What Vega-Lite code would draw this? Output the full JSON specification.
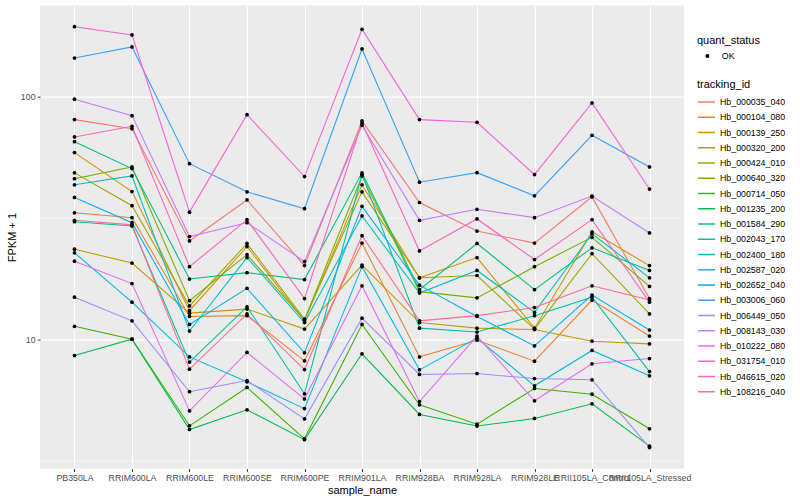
{
  "$schema": "https://vega.github.io/schema/vega-lite/v6.json",
  "width": 644,
  "height": 463,
  "autosize": "none",
  "padding": {"left": 40, "top": 5.6, "right": 116, "bottom": 31.4},
  "background": "white",
  "config": {
    "view": {"fill": "#EBEBEB", "stroke": null},
    "font": "Liberation Sans",
    "axis": {
      "domain": false,
      "labelFont": "Liberation Sans",
      "labelFontSize": 8.8,
      "labelColor": "#4D4D4D",
      "tickColor": "#333333",
      "tickSize": 2.75,
      "tickWidth": 1,
      "labelPadding": 2.2,
      "gridColor": "white",
      "titleFont": "Liberation Sans",
      "titleFontSize": 11,
      "titleFontWeight": "normal",
      "titleColor": "black"
    },
    "legend": {
      "titleFont": "Liberation Sans",
      "titleFontSize": 11,
      "titleFontWeight": "normal",
      "titleColor": "black",
      "labelFont": "Liberation Sans",
      "labelFontSize": 8.8,
      "labelColor": "black"
    }
  },
  "data": {
    "values": [
      {"tracking_id": "Hb_000035_040", "quant_status": "OK", "PB350LA": 80.4, "RRIM600LA": 73.8, "RRIM600LE": 25.4, "RRIM600SE": 37.5, "RRIM600PE": 20.1, "RRIM901LA": 79.4, "RRIM928BA": 36.6, "RRIM928LA": 27.9, "RRIM928LE": 24.9, "RRII105LA_Control": 38.6, "RRII105LA_Stressed": 14.7},
      {"tracking_id": "Hb_000104_080", "quant_status": "OK", "PB350LA": 33.2, "RRIM600LA": 31.7, "RRIM600LE": 12.4, "RRIM600SE": 12.5, "RRIM600PE": 8.14, "RRIM901LA": 24.9, "RRIM928BA": 8.45, "RRIM928LA": 9.9, "RRIM928LE": 8.11, "RRII105LA_Control": 14.5, "RRII105LA_Stressed": 10.3},
      {"tracking_id": "Hb_000139_250", "quant_status": "OK", "PB350LA": 58.8, "RRIM600LA": 40.6, "RRIM600LE": 13.1, "RRIM600SE": 24.1, "RRIM600PE": 11.9, "RRIM901LA": 43.3, "RRIM928BA": 17.9, "RRIM928LA": 21.7, "RRIM928LE": 11.1, "RRII105LA_Control": 27.7, "RRII105LA_Stressed": 20.1},
      {"tracking_id": "Hb_000320_200", "quant_status": "OK", "PB350LA": 23.5, "RRIM600LA": 20.6, "RRIM600LE": 12.8, "RRIM600SE": 13.3, "RRIM600PE": 11.0, "RRIM901LA": 20.2, "RRIM928BA": 11.7, "RRIM928LA": 11.1, "RRIM928LE": 10.95, "RRII105LA_Control": 9.81, "RRII105LA_Stressed": 9.56},
      {"tracking_id": "Hb_000424_010", "quant_status": "OK", "PB350LA": 48.5, "RRIM600LA": 35.5, "RRIM600LE": 13.7, "RRIM600SE": 24.8, "RRIM600PE": 12.1, "RRIM901LA": 40.5, "RRIM928BA": 17.9, "RRIM928LA": 18.3, "RRIM928LE": 11.0, "RRII105LA_Control": 22.5, "RRII105LA_Stressed": 12.7},
      {"tracking_id": "Hb_000640_320", "quant_status": "OK", "PB350LA": 45.9, "RRIM600LA": 51.3, "RRIM600LE": 14.4, "RRIM600SE": 22.3, "RRIM600PE": 12.0, "RRIM901LA": 47.1, "RRIM928BA": 15.7, "RRIM928LA": 14.8, "RRIM928LE": 19.9, "RRII105LA_Control": 26.3, "RRII105LA_Stressed": 16.5},
      {"tracking_id": "Hb_000714_050", "quant_status": "OK", "PB350LA": 11.3, "RRIM600LA": 10.0, "RRIM600LE": 4.39, "RRIM600SE": 6.32, "RRIM600PE": 3.88, "RRIM901LA": 11.5, "RRIM928BA": 5.36, "RRIM928LA": 4.46, "RRIM928LE": 6.26, "RRII105LA_Control": 5.93, "RRII105LA_Stressed": 4.27},
      {"tracking_id": "Hb_001235_200", "quant_status": "OK", "PB350LA": 8.56, "RRIM600LA": 10.0, "RRIM600LE": 4.24, "RRIM600SE": 5.11, "RRIM600PE": 3.85, "RRIM901LA": 8.70, "RRIM928BA": 4.89, "RRIM928LA": 4.38, "RRIM928LE": 4.71, "RRII105LA_Control": 5.41, "RRII105LA_Stressed": 3.62},
      {"tracking_id": "Hb_001584_290", "quant_status": "OK", "PB350LA": 65.2, "RRIM600LA": 50.5, "RRIM600LE": 17.7, "RRIM600SE": 18.8, "RRIM600PE": 17.6, "RRIM901LA": 48.5, "RRIM928BA": 16.0, "RRIM928LA": 24.8, "RRIM928LE": 16.0, "RRII105LA_Control": 23.8, "RRII105LA_Stressed": 19.2},
      {"tracking_id": "Hb_002043_170", "quant_status": "OK", "PB350LA": 30.5, "RRIM600LA": 29.3, "RRIM600LE": 8.04, "RRIM600SE": 13.6, "RRIM600PE": 5.95, "RRIM901LA": 47.9, "RRIM928BA": 11.1, "RRIM928LA": 10.7, "RRIM928LE": 12.5, "RRII105LA_Control": 14.9, "RRII105LA_Stressed": 7.35},
      {"tracking_id": "Hb_002400_180", "quant_status": "OK", "PB350LA": 43.3, "RRIM600LA": 47.1, "RRIM600LE": 10.8, "RRIM600SE": 21.7, "RRIM600PE": 11.7, "RRIM901LA": 32.2, "RRIM928BA": 15.5, "RRIM928LA": 19.2, "RRIM928LE": 12.9, "RRII105LA_Control": 27.2, "RRII105LA_Stressed": 17.9},
      {"tracking_id": "Hb_002587_020", "quant_status": "OK", "PB350LA": 22.7, "RRIM600LA": 14.2, "RRIM600LE": 8.45, "RRIM600SE": 6.67, "RRIM600PE": 5.17, "RRIM901LA": 19.9, "RRIM928BA": 7.47, "RRIM928LA": 10.1, "RRIM928LE": 6.42, "RRII105LA_Control": 8.98, "RRII105LA_Stressed": 7.06},
      {"tracking_id": "Hb_002652_040", "quant_status": "OK", "PB350LA": 38.4, "RRIM600LA": 30.2, "RRIM600LE": 11.5, "RRIM600SE": 16.2, "RRIM600PE": 8.78, "RRIM901LA": 35.3, "RRIM928BA": 16.7, "RRIM928LA": 12.4, "RRIM928LE": 9.38, "RRII105LA_Control": 15.2, "RRII105LA_Stressed": 10.9},
      {"tracking_id": "Hb_003006_060", "quant_status": "OK", "PB350LA": 144.3, "RRIM600LA": 160.3, "RRIM600LE": 52.9, "RRIM600SE": 40.5, "RRIM600PE": 34.5, "RRIM901LA": 157.3, "RRIM928BA": 44.4, "RRIM928LA": 48.6, "RRIM928LE": 39.0, "RRII105LA_Control": 69.3, "RRII105LA_Stressed": 51.3},
      {"tracking_id": "Hb_006449_050", "quant_status": "OK", "PB350LA": 14.9, "RRIM600LA": 11.9, "RRIM600LE": 6.07, "RRIM600SE": 6.75, "RRIM600PE": 4.69, "RRIM901LA": 12.2, "RRIM928BA": 7.15, "RRIM928LA": 7.21, "RRIM928LE": 6.88, "RRII105LA_Control": 6.80, "RRII105LA_Stressed": 3.57},
      {"tracking_id": "Hb_008143_030", "quant_status": "OK", "PB350LA": 97.6, "RRIM600LA": 83.5, "RRIM600LE": 26.5, "RRIM600SE": 30.2, "RRIM600PE": 20.9, "RRIM901LA": 76.2, "RRIM928BA": 30.9, "RRIM928LA": 34.3, "RRIM928LE": 31.7, "RRII105LA_Control": 38.9, "RRII105LA_Stressed": 27.4},
      {"tracking_id": "Hb_010222_080", "quant_status": "OK", "PB350LA": 20.97, "RRIM600LA": 16.95, "RRIM600LE": 5.06, "RRIM600SE": 8.81, "RRIM600PE": 5.67, "RRIM901LA": 16.6, "RRIM928BA": 5.53, "RRIM928LA": 10.3, "RRIM928LE": 5.57, "RRII105LA_Control": 7.91, "RRII105LA_Stressed": 8.32},
      {"tracking_id": "Hb_031754_010", "quant_status": "OK", "PB350LA": 194.3, "RRIM600LA": 179.6, "RRIM600LE": 33.4, "RRIM600SE": 84.3, "RRIM600PE": 46.8, "RRIM901LA": 189.6, "RRIM928BA": 80.4, "RRIM928LA": 78.4, "RRIM928LE": 47.7, "RRII105LA_Control": 94.2, "RRII105LA_Stressed": 41.6},
      {"tracking_id": "Hb_046615_020", "quant_status": "OK", "PB350LA": 68.2, "RRIM600LA": 75.5, "RRIM600LE": 19.9, "RRIM600SE": 31.1, "RRIM600PE": 14.7, "RRIM901LA": 77.9, "RRIM928BA": 23.1, "RRIM928LA": 31.3, "RRIM928LE": 21.3, "RRII105LA_Control": 31.1, "RRII105LA_Stressed": 14.2},
      {"tracking_id": "Hb_108216_040", "quant_status": "OK", "PB350LA": 30.9, "RRIM600LA": 29.6, "RRIM600LE": 7.52, "RRIM600SE": 12.7, "RRIM600PE": 7.49, "RRIM901LA": 26.7, "RRIM928BA": 11.9, "RRIM928LA": 12.5, "RRIM928LE": 13.5, "RRII105LA_Control": 16.6, "RRII105LA_Stressed": 14.5}
    ]
  },
  "transform": [
    {"fold": ["PB350LA", "RRIM600LA", "RRIM600LE", "RRIM600SE", "RRIM600PE", "RRIM901LA", "RRIM928BA", "RRIM928LA", "RRIM928LE", "RRII105LA_Control", "RRII105LA_Stressed"], "as": ["sample_name", "fpkm"]}
  ],
  "encoding": {
    "x": {
      "field": "sample_name",
      "type": "nominal",
      "sort": ["PB350LA", "RRIM600LA", "RRIM600LE", "RRIM600SE", "RRIM600PE", "RRIM901LA", "RRIM928BA", "RRIM928LA", "RRIM928LE", "RRII105LA_Control", "RRII105LA_Stressed"],
      "scale": {"type": "point", "padding": 0.6},
      "title": "sample_name",
      "axis": {"labelAngle": 0, "labelOverlap": false, "labelBound": false, "labelFlush": false, "grid": true, "gridWidth": 1.07, "titlePadding": 2}
    },
    "y": {
      "field": "fpkm",
      "type": "quantitative",
      "scale": {"type": "log", "domain": [2.925, 237.4], "nice": false, "zero": false},
      "title": "FPKM + 1",
      "axis": {
        "values": [3.1623, 10, 31.623, 100],
        "labelExpr": "(datum.value == 10 || datum.value == 100) ? datum.label : ''",
        "gridWidth": {"condition": {"test": "datum.value == 10 || datum.value == 100", "value": 1.07}, "value": 0.53},
        "tickOpacity": {"condition": {"test": "datum.value == 10 || datum.value == 100", "value": 1}, "value": 0},
        "labelOverlap": false,
        "titlePadding": 3
      }
    }
  },
  "layer": [
    {
      "mark": {"type": "line", "strokeWidth": 1.07},
      "encoding": {
        "color": {
          "field": "tracking_id",
          "type": "nominal",
          "scale": {
            "domain": ["Hb_000035_040", "Hb_000104_080", "Hb_000139_250", "Hb_000320_200", "Hb_000424_010", "Hb_000640_320", "Hb_000714_050", "Hb_001235_200", "Hb_001584_290", "Hb_002043_170", "Hb_002400_180", "Hb_002587_020", "Hb_002652_040", "Hb_003006_060", "Hb_006449_050", "Hb_008143_030", "Hb_010222_080", "Hb_031754_010", "Hb_046615_020", "Hb_108216_040"],
            "range": ["#F8766D", "#EA8331", "#D89000", "#C09B00", "#A3A500", "#7CAE00", "#39B600", "#00BB4E", "#00BF7D", "#00C1A3", "#00BFC4", "#00BAE0", "#00B0F6", "#35A2FF", "#9590FF", "#C77CFF", "#E76BF3", "#FA62DB", "#FF62BC", "#FF6C91"]
          },
          "legend": {
            "title": "tracking_id",
            "orient": "none",
            "legendX": 657,
            "legendY": 73.2,
            "symbolType": "stroke",
            "symbolSize": 289,
            "symbolStrokeWidth": 1.5,
            "rowPadding": 0.25,
            "titlePadding": 2.7,
            "labelOffset": 4
          }
        }
      }
    },
    {
      "mark": {"type": "point", "filled": true, "size": 14, "opacity": 1},
      "encoding": {
        "color": {"value": "black"},
        "shape": {
          "field": "quant_status",
          "type": "nominal",
          "scale": {"range": ["circle"]},
          "legend": {
            "title": "quant_status",
            "orient": "none",
            "legendX": 657,
            "legendY": 29.6,
            "symbolFillColor": "black",
            "symbolStrokeColor": "black",
            "symbolSize": 16,
            "symbolOffset": 6,
            "titlePadding": 5.5,
            "labelOffset": 10
          }
        }
      }
    }
  ]
}
